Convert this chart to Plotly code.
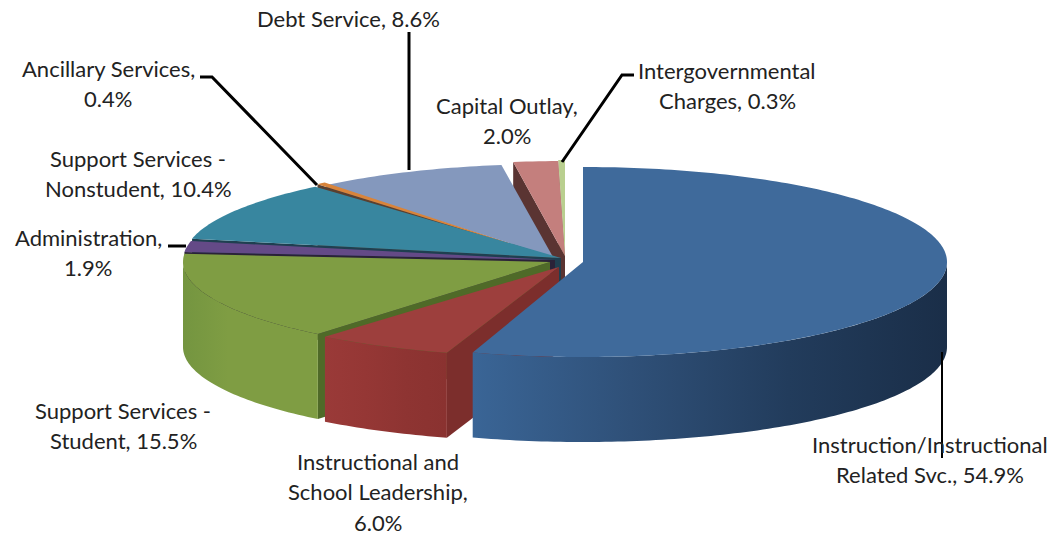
import plotly.graph_objects as go
import math

# Budget shares in clockwise drawing order, starting at twelve o'clock
categories = ["Instruction", "Leadership", "Student", "Administration", "Nonstudent",
              "Ancillary", "Debt", "Capital", "Intergovernmental"]
shares = [54.9, 6.0, 15.5, 1.9, 10.4, 0.4, 8.6, 2.0, 0.3]
top_colors = ["#3F6A9B", "#9D3F3D", "#7F9D43", "#644A87", "#38869F",
              "#D9843A", "#8498BD", "#C47F7D", "#B9CF8F"]
wall_colors = ["#2F5078", "#7C2E2C", "#4F6A28", "#2A2238", "#1F3F50",
               "#5A4030", "#4A4A58", "#5A3432", "#7F8F60"]
# Side-face shading stops, left to right along each slice's outer rim
side_stops = [["#3A6596", "#2F5078", "#223C5C", "#1A2E48"],
              ["#9A3A38", "#953735", "#8E3432", "#8A3230"],
              ["#749540", "#7F9D43", "#7F9D43", "#7F9D43"],
              ["#503B6C"] * 4, ["#2E6C85"] * 4, ["#AD6A2E"] * 4,
              ["#69799A"] * 4, ["#9E6563"] * 4, ["#94A672"] * 4]
# Exploded position of each slice: apex x, apex y, horizontal and vertical radius
slice_geometry = [(583, 262, 364, 95), (559, 267, 370, 90), (550, 262, 367, 93),
                  (555, 260, 372, 92), (561, 258, 377, 94), (560, 260, 372, 100),
                  (553, 257, 358, 93), (565, 256, 360, 95), (565, 255, 360, 95)]
DEPTH = 85

# Text lines per label; {v} is filled from the share of that slice
label_lines = [["Instruction/Instructional", "Related Svc., {v}%"],
               ["Instructional and", "School Leadership,", "{v}%"],
               ["Support Services -", "Student, {v}%"],
               ["Administration,", "{v}%"],
               ["Support Services -", "Nonstudent, {v}%"],
               ["Ancillary Services,", "{v}%"],
               ["Debt Service, {v}%"],
               ["Capital Outlay,", "{v}%"],
               ["Intergovernmental", "Charges, {v}%"]]
label_anchor_x = [930, 378, 123, 88, 138, 108, 348, 507, 727]
label_first_y = [444, 461, 410, 237, 158, 68, 18, 105, 70]
LINE_STEP = 30.5

# Leader lines: x path, y path, width
leaders = [([942, 942], [352, 458], 2),
           ([168, 186], [246, 246], 3),
           ([200, 212, 317], [77, 77, 185], 3),
           ([409, 409], [32, 170], 3),
           ([634, 622, 562], [75, 75, 162], 3)]


def rim(geom, deg):
    ax, ay, rx, ry = geom
    r = math.radians(deg)
    return ax + rx * math.sin(r), ay - ry * math.cos(r)


def poly(xs, ys, color=None, gradient=None):
    style = dict(fillgradient=gradient) if gradient else dict(fillcolor=color)
    return go.Scatter(x=xs + xs[:1], y=ys + ys[:1], mode="none", fill="toself",
                      hoverinfo="skip", showlegend=False, **style)


# Slice angle spans from the shares
total = sum(shares)
spans = []
cum = 0.0
for s in shares:
    spans.append((cum / total * 360, (cum + s) / total * 360))
    cum += s

fig = go.Figure()

# Paint from the back of the pie to the front so nearer slices overlap farther ones
for i in reversed(range(len(shares))):
    geom, (a0, a1) = slice_geometry[i], spans[i]
    ax, ay = geom[0], geom[1]

    # Radial wall along the slice's leading edge
    ox, oy = rim(geom, a0)
    if i > 0:
        fig.add_trace(poly([ax, ox, ox, ax], [ay, oy, oy + DEPTH, ay + DEPTH], color=wall_colors[i]))

    # Outer rim with a horizontal shading gradient
    lo, hi = max(a0, 90), min(a1, 270)
    if hi > lo:
        n = max(2, int((hi - lo) / 1.0))
        pts = [rim(geom, lo + (hi - lo) * k / n) for k in range(n + 1)]
        xs = [p[0] for p in pts] + [p[0] for p in reversed(pts)]
        ys = [p[1] for p in pts] + [p[1] + DEPTH for p in reversed(pts)]
        stops = side_stops[i]
        scale = [[k / (len(stops) - 1), c] for k, c in enumerate(stops)]
        fig.add_trace(poly(xs, ys, gradient=dict(type="horizontal", colorscale=scale)))

    # Top face
    n = max(2, int((a1 - a0) / 1.0))
    arc = [rim(geom, a0 + (a1 - a0) * k / n) for k in range(n + 1)]
    fig.add_trace(poly([ax] + [p[0] for p in arc], [ay] + [p[1] for p in arc], color=top_colors[i]))

for xs, ys, w in leaders:
    fig.add_trace(go.Scatter(x=xs, y=ys, mode="lines", line=dict(color="#000000", width=w),
                             hoverinfo="skip", showlegend=False))

for lines, x, y0, v in zip(label_lines, label_anchor_x, label_first_y, shares):
    for j, text in enumerate(lines):
        fig.add_annotation(x=x, y=y0 + j * LINE_STEP, text=text.format(v=f"{v:.1f}"), showarrow=False,
                           xanchor="center", yanchor="middle",
                           font=dict(family="Lato, Carlito, sans-serif", size=22, color="#222222"))

fig.update_layout(
    width=1058, height=535, margin=dict(l=0, r=0, t=0, b=0),
    paper_bgcolor="#FFFFFF", plot_bgcolor="#FFFFFF", showlegend=False,
    xaxis=dict(range=[0, 1058], visible=False, fixedrange=True),
    yaxis=dict(range=[535, 0], visible=False, fixedrange=True),
)
fig.write_html("out.html", config=dict(displayModeBar=False))
